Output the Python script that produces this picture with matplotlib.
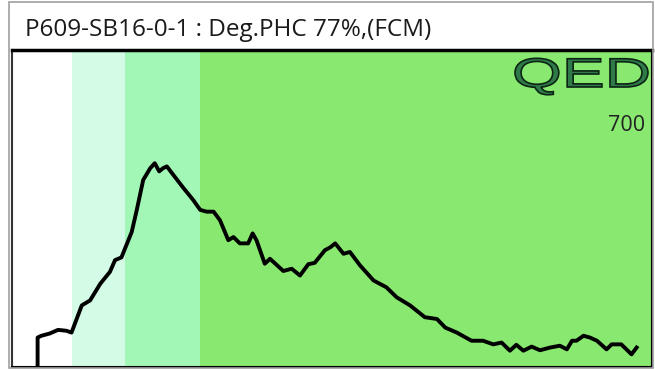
import numpy as np
import matplotlib.pyplot as plt
from matplotlib.patches import Rectangle, PathPatch
from matplotlib.textpath import TextPath
from matplotlib.font_manager import FontProperties
from matplotlib.transforms import Affine2D

# histogram trace (channel, count)
channel = [40, 40, 46, 59, 72, 85, 93, 109, 122, 138, 153, 161, 171, 187, 195,
           205, 216, 223, 230, 236, 242, 250, 268, 283, 294, 304, 315, 325, 338, 346,
           356, 369, 376, 382, 395, 403, 424, 437, 450, 463, 473, 489, 497, 505, 518,
           528, 544, 565, 585, 601, 622, 645, 664, 677, 695, 718, 736, 752, 765, 778,
           788, 799, 812, 825, 841, 856, 867, 875, 882, 893, 903, 914, 929, 937, 952,
           968, 976]
count = [0, 65, 69, 74, 82, 80, 76, 136, 147, 184, 210, 236, 242, 298, 347, 413,
         439, 450, 432, 439, 443, 428, 395, 369, 347, 343, 343, 324, 280, 287, 273,
         273, 295, 280, 228, 239, 212, 217, 202, 227, 230, 258, 264, 273, 250, 254,
         224, 191, 176, 154, 136, 110, 106, 87, 76, 58, 58, 50, 54, 36, 49, 36,
         45, 37, 43, 47, 39, 58, 58, 69, 65, 58, 39, 50, 50, 28, 43]

# gate bands (start, end, colour)
band_edges = [94, 177, 294, 1000]
band_colors = ['#d3fbe6', '#a2f7b6', '#88e86f']

title = "P609-SB16-0-1 : Deg.PHC 77%,(FCM)"
y_max = 700

W, H = 655, 369
fig = plt.figure(figsize=(W / 100, H / 100), dpi=100)
fig.patch.set_facecolor('white')

# outer grey frame
fig.patches.append(Rectangle((9 / W, 1 / H), 644 / W, 366 / H, transform=fig.transFigure,
                             fill=False, edgecolor='#a0a0a0', linewidth=1.2))

ax = fig.add_axes([12 / W, 2 / H, 640 / W, 317 / H])
ax.set_xlim(0, 1000)
ax.set_ylim(0, y_max)

for i, c in enumerate(band_colors):
    ax.axvspan(band_edges[i], band_edges[i + 1], color=c, linewidth=0, zorder=0)

ax.plot(channel, count, color='black', linewidth=2.8, solid_joinstyle='round', zorder=3)

ax.set_xticks([])
ax.set_yticks([])
for side in ['left', 'bottom', 'right']:
    ax.spines[side].set_linewidth(1.5)
ax.spines['top'].set_linewidth(2.5)
ax.spines['left'].set_color('#333333')

ax.text(0.99, 0.762, str(y_max), transform=ax.transAxes, ha='right', va='center',
        fontsize=15.5, family='Open Sans', color='#222222')

fig.text(25 / W, 1 - 36 / H, title, ha='left', va='baseline', fontsize=17.5,
         family='Open Sans', color='#1a1a1a')

# QED logo, stretched wide
tp = TextPath((0, 0), 'QED', size=1, prop=FontProperties(family='Liberation Sans'))
bb = tp.get_extents()
sx = (648 - 515) / W / bb.width
sy = (87 - 57) / H / 0.73
tr = Affine2D().translate(-bb.x0, 0).scale(sx, sy).translate(515 / W, 1 - 87 / H)
logo = PathPatch(tr.transform_path(tp), transform=fig.transFigure,
                 facecolor='#2f7a48', edgecolor='#0c2414', linewidth=1.2, zorder=5)
fig.patches.append(logo)

fig.savefig('out.png', dpi=100)
